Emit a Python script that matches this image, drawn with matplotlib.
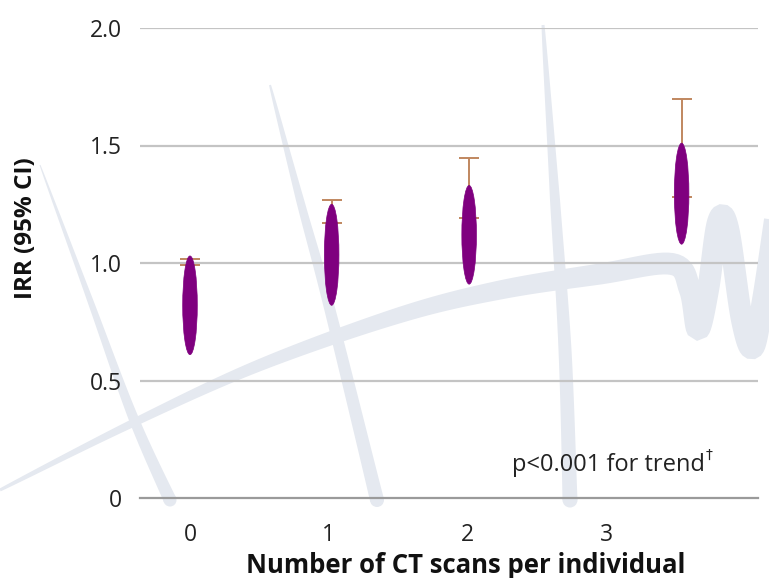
import numpy as np
import matplotlib
matplotlib.use("Agg")
import matplotlib.pyplot as plt
from matplotlib.patches import Ellipse, Polygon, Circle

plt.rcParams['font.family'] = ['Open Sans', 'DejaVu Sans']

# ---- data ----
categories = ["0", "1", "2", "3"]
tick_pos = [0, 1, 2, 3]
marker_x = [0.0, 1.02, 2.01, 3.54]
point_est = [0.99, 1.17, 1.19, 1.28]
upper_ci = [1.016, 1.27, 1.445, 1.70]
shape_low = [0.61, 0.82, 0.91, 1.08]
shape_high = [1.03, 1.25, 1.33, 1.51]
y_ticks = [0, 0.5, 1.0, 1.5, 2.0]
y_ticklabels = ["0", "0.5", "1.0", "1.5", "2.0"]

W, H = 769, 578
fig = plt.figure(figsize=(W / 100, H / 100), dpi=100)

# ---- background watermark (decoration, pixel coordinates) ----
bg = fig.add_axes([0, 0, 1, 1], zorder=0)
bg.set_xlim(0, W)
bg.set_ylim(H, 0)
bg.axis('off')
wm = '#e5e9f0'


def smooth(pts, n=12):
    pts = np.asarray(pts, float)
    P = np.vstack([pts[0], pts, pts[-1]])
    out = []
    for i in range(1, len(P) - 2):
        p0, p1, p2, p3 = P[i - 1], P[i], P[i + 1], P[i + 2]
        for t in np.linspace(0, 1, n, endpoint=False):
            t2, t3 = t * t, t * t * t
            out.append(0.5 * ((2 * p1) + (-p0 + p2) * t +
                              (2 * p0 - 5 * p1 + 4 * p2 - p3) * t2 +
                              (-p0 + 3 * p1 - 3 * p2 + p3) * t3))
    out.append(pts[-1])
    return np.array(out)


def taper(pts, widths, color=wm, cap=True, n=12):
    pts = np.asarray(pts, float)
    w_ctrl = np.asarray(widths, float)
    sp = smooth(pts, n)
    s_ctrl = np.linspace(0, 1, len(pts))
    s = np.linspace(0, 1, len(sp))
    w = np.interp(s, s_ctrl, w_ctrl)
    t = np.gradient(sp, axis=0)
    t /= np.linalg.norm(t, axis=1)[:, None] + 1e-9
    nrm = np.column_stack([-t[:, 1], t[:, 0]])
    left = sp + nrm * w[:, None] / 2
    right = sp - nrm * w[:, None] / 2
    poly = np.vstack([left, right[::-1]])
    bg.add_patch(Polygon(poly, closed=True, facecolor=color, edgecolor='none'))
    if cap:
        bg.add_patch(Circle(sp[-1], w[-1] / 2, facecolor=color, edgecolor='none'))


# diagonal strokes
taper([(40, 165), (90, 300), (133, 417), (170, 500)], [1, 6, 10, 13])
taper([(270, 85), (300, 200), (330, 310), (377, 500)], [2, 8, 11, 14])
taper([(543, 25), (555, 200), (565, 350), (570, 500)], [3, 10, 13, 15])
# big sweeping curve with W at right
curve = [(0, 490), (133, 423), (260, 365), (400, 315), (500, 290), (600, 274),
         (672, 264), (690, 290), (698, 330), (708, 290), (718, 222), (728, 228),
         (742, 320), (753, 348), (763, 300), (775, 220)]
cw = [3, 8, 12, 16, 19, 21, 22, 22, 22, 22, 22, 22, 22, 22, 22, 22]
taper(curve, cw, cap=False)

# ---- main axes ----
left, right = 140, 758
bottom, top = 498, 28
ax = fig.add_axes([left / W, (H - bottom) / H, (right - left) / W, (bottom - top) / H], zorder=1)
ax.patch.set_alpha(0)
ax.set_xlim(-0.36, 4.09)
ax.set_ylim(0, 2.0)

for sp_ in ax.spines.values():
    sp_.set_visible(False)

for y in y_ticks[1:]:
    ax.axhline(y, color='#c4c4c4', lw=1.6, zorder=1)
ax.axhline(0, color='#9a9a9a', lw=1.6, zorder=1, clip_on=False)

ax.set_yticks(y_ticks)
ax.set_yticklabels(y_ticklabels)
ax.set_xticks(tick_pos)
ax.set_xticklabels(categories)
ax.tick_params(axis='both', length=0, labelsize=16.5, colors='#222222')
ax.tick_params(axis='y', pad=13)
ax.tick_params(axis='x', pad=18)

# error bars (upper only, cap at point estimate and at upper CI)
pe = np.array(point_est)
uc = np.array(upper_ci)
ax.errorbar(marker_x, pe, yerr=[np.zeros_like(pe), uc - pe], fmt='none',
            ecolor='#c0875f', elinewidth=1.4, capsize=7.5, capthick=1.4, zorder=3)

# purple elongated markers
for x, lo, hi in zip(marker_x, shape_low, shape_high):
    ax.add_patch(Ellipse((x, (lo + hi) / 2), width=0.105, height=hi - lo,
                         facecolor='#7f007f', edgecolor='#7f007f', lw=0.5, zorder=4))

ax.text(0.914, 0.070, "p<0.001 for trend", transform=ax.transAxes,
        ha='right', va='center', fontsize=17, color='#222222')
ax.text(0.916, 0.092, "\u2020", transform=ax.transAxes, ha='left', va='center',
        fontsize=10, color='#222222', family=['DejaVu Sans'])

ax.set_xlabel("Number of CT scans per individual", fontsize=18.5, fontweight='bold',
              color='#111111')
ax.xaxis.set_label_coords(0.527, -0.115)
ax.set_ylabel("IRR (95% CI)", fontsize=17.5, fontweight='bold', color='#111111')
ax.yaxis.set_label_coords(-0.165, 0.575)

fig.savefig("out.png", dpi=100)
